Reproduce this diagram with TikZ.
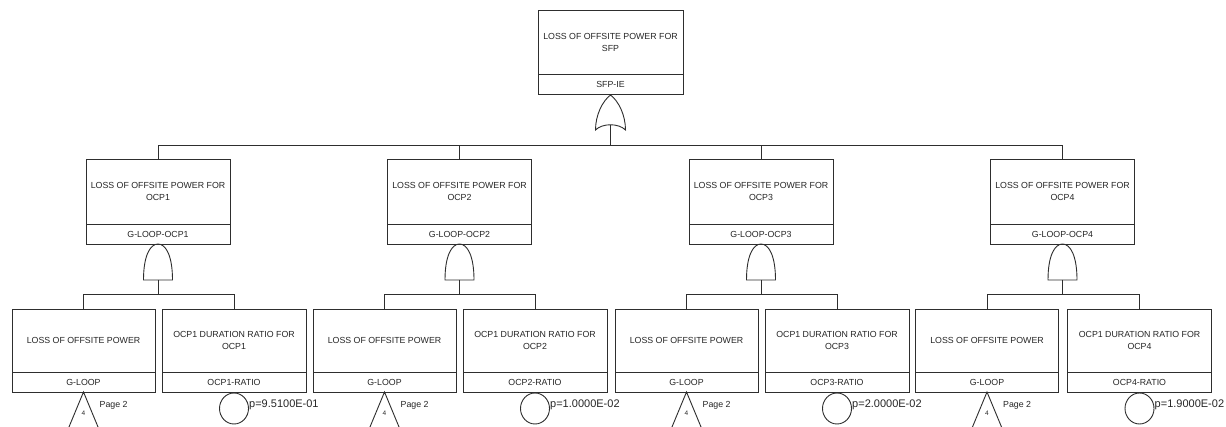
\documentclass[tikz,border=0pt]{standalone}
\usepackage{fontspec}
\setmainfont{Liberation Sans}
\begin{document}
\begin{tikzpicture}[x=1pt,y=-1pt,
  ln/.style={draw=black!82, line width=0.9pt},
  boxtxt/.style={font=\fontsize{8.8}{12}\selectfont, text=black!85},
  upbox/.style={ln, boxtxt, align=center, inner sep=0pt, outer sep=0pt},
  labbox/.style={ln, boxtxt, inner sep=0pt, outer sep=0pt, minimum height=20pt},
  ptxt/.style={font=\fontsize{11}{13}\selectfont, text=black!85, inner sep=0pt},
  pagetxt/.style={font=\fontsize{8.8}{10}\selectfont, text=black!85, inner sep=0pt},
  numtxt/.style={font=\fontsize{6.5}{7}\selectfont, text=black!85, inner sep=0pt},
  orgate/.pic={
    \draw[ln] (0,1) .. controls (-8,7) and (-15,21) .. (-15,36)
      .. controls (-8,29) and (8,29) .. (15,36)
      .. controls (15,21) and (8,7) .. (0,1) -- cycle;
    \coordinate (-out) at (0,30.7);
  },
  andgate/.pic={
    \draw[ln] (-14.5,36) .. controls (-14.5,12) and (-8,0) .. (0,0)
      .. controls (8,0) and (14.5,12) .. (14.5,36) -- cycle;
    \coordinate (-out) at (0,36);
  },
  transfer/.pic={
    \draw[ln] (-22,53) -- (0,0) -- (22,53);
    \node[numtxt] (-n) at (0,21) {4};
    \node[pagetxt, anchor=west] (-p) at (16,13) {Page 2};
  },
  basicev/.pic={
    \draw[ln] (0,16.5) ellipse [x radius=14.5, y radius=15.5];
  }
]
\useasboundingbox (0,0) rectangle (1226,427);
\clip (0,0) rectangle (1226,427);
\fill[white] (0,0) rectangle (1226,427);

\newcommand{\ftbox}[7]{%
  \node[upbox, minimum width=#4pt, minimum height=#5pt, anchor=north] (#1) at (#2,#3) {#6};
  \node[labbox, minimum width=#4pt, anchor=north] (#1l) at (#1.south) {#7};
}

% top event
\ftbox{top}{610.5}{10}{145}{64}{LOSS OF OFFSITE POWER FOR\\SFP}{SFP-IE}
\pic (og) at (topl.south) {orgate};

% level 2
\ftbox{b1}{158}{159}{144}{65}{LOSS OF OFFSITE POWER FOR\\OCP1}{G-LOOP-OCP1}
\ftbox{b2}{459.5}{159}{144}{65}{LOSS OF OFFSITE POWER FOR\\OCP2}{G-LOOP-OCP2}
\ftbox{b3}{761}{159}{144}{65}{LOSS OF OFFSITE POWER FOR\\OCP3}{G-LOOP-OCP3}
\ftbox{b4}{1062.5}{159}{144}{65}{LOSS OF OFFSITE POWER FOR\\OCP4}{G-LOOP-OCP4}

\coordinate (bar0) at (610.5,145);
\draw[ln] (og-out) -- (bar0);
\draw[ln] (b1.north) -- (b1.north |- bar0) -- (b4.north |- bar0) -- (b4.north);
\draw[ln] (b2.north) -- (b2.north |- bar0);
\draw[ln] (b3.north) -- (b3.north |- bar0);

% level 3
\foreach \i/\ca/\cb/\p in {1/83.5/234/9.5100E-01, 2/384.5/535/1.0000E-02, 3/686.5/837/2.0000E-02, 4/987/1139.5/1.9000E-02}{
  \ftbox{g\i}{\ca}{309}{143}{63}{LOSS OF OFFSITE POWER}{G-LOOP}
  \ftbox{r\i}{\cb}{309}{144}{63}{OCP1 DURATION RATIO FOR\\OCP\i}{OCP\i-RATIO}
  \pic (ag\i) at (b\i l.south) {andgate};
  \coordinate (bar\i) at (ag\i-out |- 0,294);
  \draw[ln] (ag\i-out) -- (bar\i);
  \draw[ln] (g\i.north) -- (g\i.north |- bar\i) -- (r\i.north |- bar\i) -- (r\i.north);
  \pic (tr\i) at (g\i l.south) {transfer};
  \pic (be\i) at (r\i l.south) {basicev};
  \node[ptxt, anchor=west] (pv\i) at ([shift={(15,13)}]r\i l.south) {p=\p};
}
\end{tikzpicture}
\end{document}
